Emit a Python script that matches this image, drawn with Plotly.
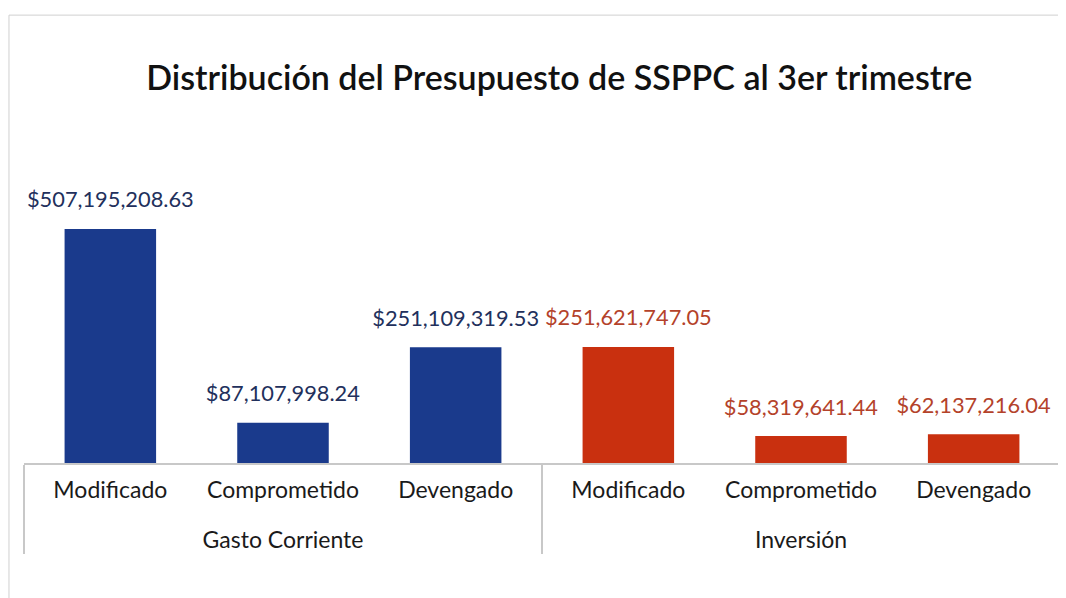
import plotly.graph_objects as go

groups = ["Gasto Corriente"] * 3 + ["Inversión"] * 3
stages = ["Modificado", "Comprometido", "Devengado", "Modificado", "Comprometido", "Devengado"]
values = [507195208.63, 87107998.24, 251109319.53, 251621747.05, 58319641.44, 62137216.04]
labels = ["$507,195,208.63", "$87,107,998.24", "$251,109,319.53",
          "$251,621,747.05", "$58,319,641.44", "$62,137,216.04"]

bar_colors = ["#1a3a8c"] * 3 + ["#c9300f"] * 3
text_colors = ["#22305c"] * 3 + ["#b4422a"] * 3

TICK = "<span style='font-size:23px'>{}</span>"
x_groups = ["<br><br>" + TICK.format(g) for g in groups]
x_stages = [TICK.format(s) for s in stages]
bar_text = ["<span style='font-size:21.8px'>{}</span><br>\u00a0".format(t) for t in labels]

fig = go.Figure(go.Bar(
    x=[x_groups, x_stages],
    y=values,
    text=bar_text,
    textposition="outside",
    constraintext="none",
    cliponaxis=False,
    marker=dict(color=bar_colors, line=dict(width=0)),
    textfont=dict(family="Lato", size=12, color=text_colors),
    hoverinfo="skip",
))

fig.update_layout(
    width=1058, height=590,
    paper_bgcolor="white", plot_bgcolor="white",
    margin=dict(l=16, r=6, t=169, b=135, autoexpand=False),
    bargap=0.47,
    showlegend=False,
    title=dict(text="Distribución del Presupuesto de SSPPC al 3er trimestre",
               x=0.521, xanchor="center", y=0.881, yanchor="middle",
               font=dict(family="Lato", size=34, color="#111111", weight=600)),
    xaxis=dict(type="multicategory", showline=True, linecolor="#c8c8c8", linewidth=1.5,
               showdividers=True, dividercolor="#c8c8c8", dividerwidth=1.5,
               tickfont=dict(family="Lato", size=14, color="#1a1a1a"),
               ticklabelstandoff=16,
               ticks="", automargin=False),
    yaxis=dict(visible=False, range=[0, 620e6]),
    shapes=[dict(type="rect", xref="paper", yref="paper", x0=-0.0145, x1=1.02, y0=-0.6, y1=1.566,
                 line=dict(color="#d0d0d0", width=1), layer="below")],
)

fig.write_html("out.html")
